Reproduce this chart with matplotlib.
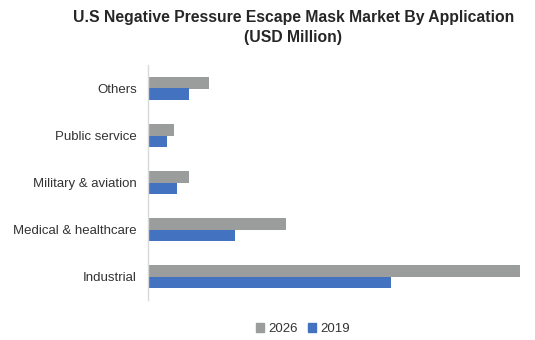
import matplotlib
matplotlib.use("Agg")
import matplotlib.pyplot as plt
from matplotlib.patches import Patch
import numpy as np

plt.rcParams['font.family'] = ['Liberation Sans', 'DejaVu Sans']

categories = ["Industrial", "Medical & healthcare", "Military & aviation", "Public service", "Others"]
values_2026 = [37.2, 13.8, 4.1, 2.6, 6.1]
values_2019 = [24.3, 8.7, 2.9, 1.9, 4.1]
series_labels = ["2026", "2019"]

color_2026 = "#9B9D9D"
color_2019 = "#4272C0"

fig = plt.figure(figsize=(5.35, 3.4), dpi=100)
ax = fig.add_axes([148 / 535, 1 - 300 / 340, (525 - 148) / 535, 235 / 340])

y = np.arange(len(categories))
h = 0.255
ax.barh(y + h / 2, values_2026, height=h, color=color_2026)
ax.barh(y - h / 2, values_2019, height=h, color=color_2019)

ax.set_yticks(y)
ax.set_yticklabels(categories, fontsize=9.5, color="#333333")
ax.tick_params(axis='y', length=0, pad=8)
ax.set_xticks([])
ax.set_ylim(-0.5, len(categories) - 0.5)
ax.set_xlim(0, 37.2 * 377 / 372)

for s in ["top", "right", "bottom"]:
    ax.spines[s].set_visible(False)
ax.spines["left"].set_color("#D9D9D9")
ax.spines["left"].set_linewidth(1.0)

fig.text(0.548, 0.949, "U.S Negative Pressure Escape Mask Market By Application",
         ha="center", va="center", fontsize=11.3, fontweight="bold", color="#262626")
fig.text(0.548, 0.890, "(USD Million)",
         ha="center", va="center", fontsize=11.3, fontweight="bold", color="#262626")

handles = [Patch(color=color_2026), Patch(color=color_2019)]
fig.legend(handles, series_labels, loc="center", bbox_to_anchor=(303 / 535, 1 - 329 / 340),
           ncol=2, frameon=False, fontsize=9.5, handlelength=0.6, handleheight=0.6,
           handletextpad=0.3, columnspacing=0.8, labelcolor="#333333")

fig.savefig("out.png", dpi=100)
